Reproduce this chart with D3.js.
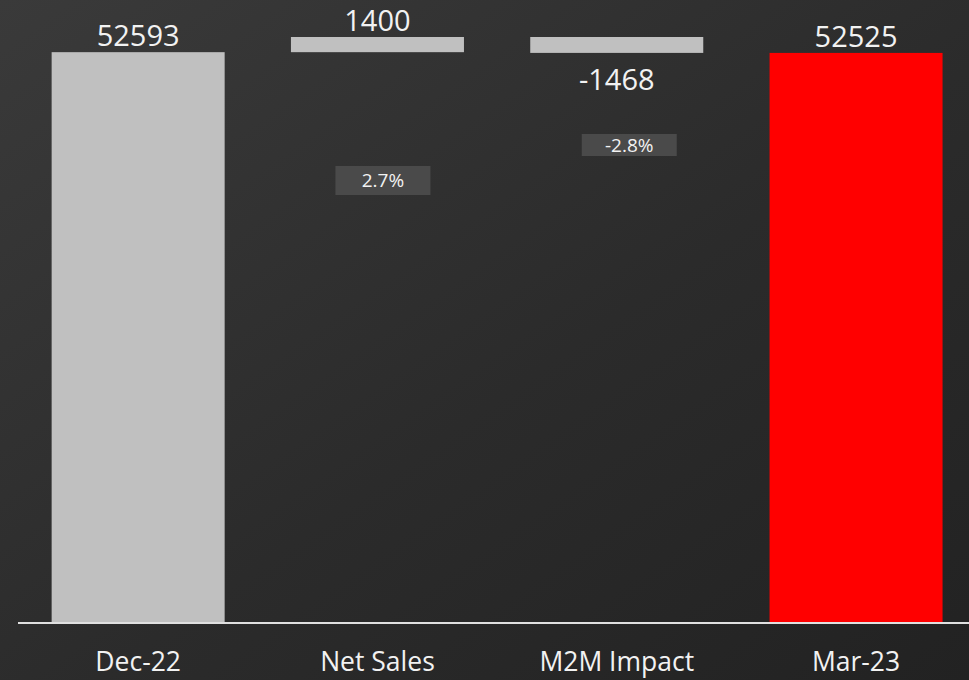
<!DOCTYPE html>
<html>
<head>
<meta charset="utf-8">
<script src="https://cdn.jsdelivr.net/npm/d3@7"></script>
<style>
  html, body { margin: 0; padding: 0; background: #2a2a2a; }
  svg { display: block; }
  text { font-family: "Open Sans", "Noto Sans", sans-serif; fill: #f2f2f2; }
</style>
</head>
<body>
<svg id="chart" width="969" height="680"></svg>
<script>
// Waterfall: opening balance, movements, closing balance
const categories = ["Dec-22", "Net Sales", "M2M Impact", "Mar-23"];
const changes = [52593, 1400, -1468, 52525];
const kinds = ["total", "delta", "delta", "total"];
const pctLabels = ["", "2.7%", "-2.8%", ""];

const W = 969, H = 680;
const svg = d3.select("#chart");

// Background gradient
const defs = svg.append("defs");
const grad = defs.append("linearGradient")
  .attr("id", "bg").attr("x1", "0%").attr("y1", "0%").attr("x2", "100%").attr("y2", "100%");
grad.append("stop").attr("offset", "0%").attr("stop-color", "#3a3a3a");
grad.append("stop").attr("offset", "55%").attr("stop-color", "#2b2b2b");
grad.append("stop").attr("offset", "100%").attr("stop-color", "#222222");
svg.append("rect").attr("width", W).attr("height", H).attr("fill", "url(#bg)");

// Build running segments
let running = 0;
const rows = categories.map((c, i) => {
  let y0, y1;
  if (kinds[i] === "total") {
    y0 = 0; y1 = changes[i]; running = changes[i];
  } else {
    y0 = running; y1 = running + changes[i]; running = y1;
  }
  return { cat: c, value: changes[i], kind: kinds[i], lo: Math.min(y0, y1), hi: Math.max(y0, y1), pct: pctLabels[i] };
});

const maxVal = d3.max(rows, d => d.hi);
const baseY = 622;
const topY = 37;

const x = d3.scaleBand()
  .domain(categories)
  .range([18.5, 975.7])
  .paddingInner(0.277)
  .paddingOuter(0.1385);

const y = d3.scaleLinear()
  .domain([0, maxVal])
  .range([baseY, topY]);

const fillFor = (d, i) => i === categories.length - 1 ? "#ff0000" : "#c0c0c0";

svg.append("g").selectAll("rect")
  .data(rows)
  .join("rect")
  .attr("x", d => x(d.cat))
  .attr("width", x.bandwidth())
  .attr("y", d => y(d.hi))
  .attr("height", d => y(d.lo) - y(d.hi))
  .attr("fill", fillFor);

// Value labels
svg.append("g").selectAll("text")
  .data(rows)
  .join("text")
  .attr("x", d => x(d.cat) + x.bandwidth() / 2)
  .attr("y", d => d.value < 0 ? y(d.lo) + 37 : y(d.hi) - 6)
  .attr("text-anchor", "middle")
  .attr("font-size", 29)
  .text(d => d.value);

// Percentage change boxes
const pctBox = {
  "Net Sales": { dx: 5.5, y: 166, h: 29 },
  "M2M Impact": { dx: 12.5, y: 134, h: 22 }
};
const pg = svg.append("g").selectAll("g")
  .data(rows.filter(d => d.pct))
  .join("g");
pg.append("rect")
  .attr("x", d => x(d.cat) + x.bandwidth() / 2 + pctBox[d.cat].dx - 47.5)
  .attr("y", d => pctBox[d.cat].y)
  .attr("width", 95)
  .attr("height", d => pctBox[d.cat].h)
  .attr("fill", "#4a4a4a");
pg.append("text")
  .attr("x", d => x(d.cat) + x.bandwidth() / 2 + pctBox[d.cat].dx)
  .attr("y", d => pctBox[d.cat].y + pctBox[d.cat].h / 2 + 6.5)
  .attr("text-anchor", "middle")
  .attr("font-size", 19)
  .text(d => d.pct);

// Category axis
const axis = svg.append("g")
  .attr("transform", `translate(0,${baseY + 1})`)
  .call(d3.axisBottom(x).tickSize(0).tickPadding(29));
axis.select(".domain").attr("stroke", "#e0e0e0").attr("stroke-width", 2)
  .attr("d", `M18,0H969`);
axis.selectAll(".tick text")
  .attr("font-size", 26.5)
  .attr("fill", "#f2f2f2")
  .style("font-family", "'Open Sans', 'Noto Sans', sans-serif");
</script>
</body>
</html>
